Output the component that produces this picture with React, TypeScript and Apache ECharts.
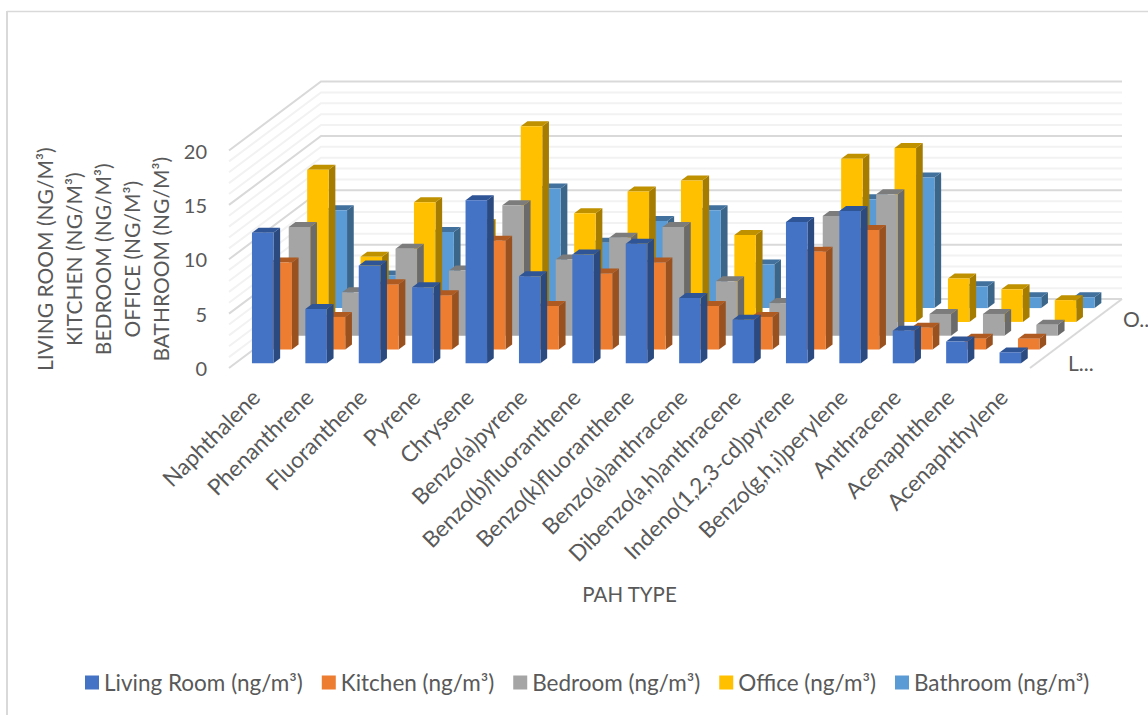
import React, { useEffect, useRef } from "react";
import * as echarts from "echarts";

// PAH concentrations per room, one value per compound
const categories = [
  "Naphthalene", "Phenanthrene", "Fluoranthene", "Pyrene", "Chrysene",
  "Benzo(a)pyrene", "Benzo(b)fluoranthene", "Benzo(k)fluoranthene",
  "Benzo(a)anthracene", "Dibenzo(a,h)anthracene", "Indeno(1,2,3-cd)pyrene",
  "Benzo(g,h,i)perylene", "Anthracene", "Acenaphthene", "Acenaphthylene",
];
const livingRoom = [12, 5, 9, 7, 15, 8, 10, 11, 6, 4, 13, 14, 3, 2, 1];
const kitchen = [8, 3, 6, 5, 10, 4, 7, 8, 4, 3, 9, 11, 2, 1, 1];
const bedroom = [10, 4, 8, 6, 12, 7, 9, 10, 5, 3, 11, 13, 2, 2, 1];
const office = [14, 6, 11, 9, 18, 10, 12, 13, 8, 5, 15, 16, 4, 3, 2];
const bathroom = [9, 3, 7, 5, 11, 6, 8, 9, 4, 3, 10, 12, 2, 1, 1];
const gridLevels = [0, 1, 2, 3, 4, 5, 6, 7, 8, 9, 10, 11, 12, 13, 14, 15, 16, 17, 18, 19, 20];

const rooms = [
  { name: "Living Room (ng/m³)", values: livingRoom, front: "#4472C4", side: "#2B4A80", top: "#2F5597" },
  { name: "Kitchen (ng/m³)", values: kitchen, front: "#ED7D31", side: "#9A5120", top: "#AE5A21" },
  { name: "Bedroom (ng/m³)", values: bedroom, front: "#A5A5A5", side: "#6B6B6B", top: "#7C7C7C" },
  { name: "Office (ng/m³)", values: office, front: "#FFC000", side: "#A67C00", top: "#BF9000" },
  { name: "Bathroom (ng/m³)", values: bathroom, front: "#5B9BD5", side: "#3B6589", top: "#41719C" },
];

const TEXT = "#595959";
const FONT = "Lato, 'Open Sans', sans-serif";

// Oblique projection of the depth axis
const FLOOR_DX = 92;
const FLOOR_DY = -69;
const ROW_DX = 18.4;
const ROW_DY = -13.8;
const BAR_W = 21.5;
const BAR_DX = 6.7;
const BAR_DY = -5;
const FRONT_SHIFT_X = 7;
const FRONT_SHIFT_Y = -4.7;

function renderBar(row: number, room: (typeof rooms)[number]) {
  return (_params: any, api: any) => {
    const cat = api.value(0);
    const top = api.coord([cat, api.value(1)]);
    const base = api.coord([cat, 0]);
    const x0 = top[0] - BAR_W / 2 + FRONT_SHIFT_X + ROW_DX * row;
    const x1 = x0 + BAR_W;
    const shiftY = FRONT_SHIFT_Y + ROW_DY * row;
    const y0 = top[1] + shiftY;
    const y1 = base[1] + shiftY;
    return {
      type: "group",
      children: [
        {
          type: "polygon",
          shape: { points: [[x1, y0], [x1 + BAR_DX, y0 + BAR_DY], [x1 + BAR_DX, y1 + BAR_DY], [x1, y1]] },
          style: { fill: room.side },
        },
        {
          type: "polygon",
          shape: { points: [[x0, y0], [x0 + BAR_DX, y0 + BAR_DY], [x1 + BAR_DX, y0 + BAR_DY], [x1, y0]] },
          style: { fill: room.top },
        },
        {
          type: "rect",
          shape: { x: x0, y: y0, width: BAR_W, height: y1 - y0 },
          style: { fill: room.front },
        },
      ],
    };
  };
}

// Back wall and side wall lines for one level of the value axis
function renderWallLine(params: any, api: any) {
  const level = api.value(0);
  const y = api.coord([0, level])[1];
  const left = params.coordSys.x;
  const right = left + params.coordSys.width;
  const major = level % 5 === 0;
  const lineStyle = { stroke: major ? "#D9D9D9" : "#F2F2F2", lineWidth: 2, fill: "none" };
  const children: any[] = [
    {
      type: "polyline",
      shape: { points: [[left, y], [left + FLOOR_DX, y + FLOOR_DY], [right + FLOOR_DX, y + FLOOR_DY]] },
      style: lineStyle,
    },
  ];
  if (level === 0) {
    children.push({
      type: "line",
      shape: { x1: right, y1: y, x2: right + FLOOR_DX, y2: y + FLOOR_DY },
      style: { stroke: "#D9D9D9", lineWidth: 2 },
    });
  }
  return { type: "group", children };
}

export default function App() {
  const ref = useRef<HTMLDivElement>(null);

  useEffect(() => {
    const chart = echarts.init(ref.current!, null, { renderer: "svg" });
    chart.setOption({
      animation: false,
      backgroundColor: "#FFFFFF",
      textStyle: { fontFamily: FONT },
      grid: { left: 229, top: 150.5, width: 801, height: 217.5, containLabel: false, outerBoundsMode: "none" },
      xAxis: {
        type: "category",
        data: categories,
        axisLine: { show: false },
        axisTick: { show: false },
        splitLine: { show: false },
        axisLabel: {
          interval: 0,
          rotate: 45,
          margin: 25,
          color: TEXT,
          fontSize: 22.5,
          fontFamily: FONT,
        },
        name: "PAH TYPE",
        nameLocation: "middle",
        nameGap: 215,
        nameMoveOverlap: false,
        nameTextStyle: { color: TEXT, fontSize: 20.5, fontFamily: FONT },
      },
      yAxis: {
        type: "value",
        min: 0,
        max: 20,
        interval: 5,
        axisLine: { show: false },
        axisTick: { show: false },
        splitLine: { show: false },
        axisLabel: { color: TEXT, fontSize: 20, margin: 22, fontFamily: FONT },
        name: "LIVING ROOM (NG/M³)\nKITCHEN (NG/M³)\nBEDROOM (NG/M³)\nOFFICE (NG/M³)\nBATHROOM (NG/M³)",
        nameLocation: "middle",
        nameRotate: 90,
        nameGap: 54,
        nameMoveOverlap: false,
        nameTextStyle: { color: TEXT, fontSize: 21, lineHeight: 29, fontFamily: FONT, align: "center" },
      },
      legend: {
        show: true,
        left: 85,
        top: 671,
        padding: 0,
        itemWidth: 14,
        itemHeight: 14,
        itemGap: 19,
        icon: "rect",
        data: rooms.map((r) => r.name),
        textStyle: { color: TEXT, fontSize: 22.5, fontFamily: FONT },
      },
      graphic: [
        { type: "line", shape: { x1: 7, y1: 11.5, x2: 1148, y2: 11.5 }, style: { stroke: "#D9D9D9", lineWidth: 1.5 } },
        { type: "line", shape: { x1: 7, y1: 11, x2: 7, y2: 715 }, style: { stroke: "#D9D9D9", lineWidth: 2 } },
        { type: "text", x: 1068, y: 352, style: { text: "L...", fill: TEXT, fontSize: 21, fontFamily: FONT } },
        { type: "text", x: 1123, y: 308, style: { text: "O..", fill: TEXT, fontSize: 21, fontFamily: FONT } },
      ],
      series: [
        {
          type: "custom",
          name: "walls",
          z: 1,
          silent: true,
          clip: false,
          data: gridLevels.map((v) => [v]),
          encode: { y: 0 },
          renderItem: renderWallLine,
        },
        ...rooms.map((room, row) => ({
          type: "custom",
          name: room.name,
          z: 10 - row,
          clip: false,
          itemStyle: { color: room.front },
          data: room.values.map((v, i) => [i, v]),
          encode: { x: 0, y: 1 },
          renderItem: renderBar(row, room),
        })),
      ],
    });
    return () => chart.dispose();
  }, []);

  return <div ref={ref} style={{ position: "fixed", left: 0, top: 0, width: 1148, height: 715 }} />;
}
